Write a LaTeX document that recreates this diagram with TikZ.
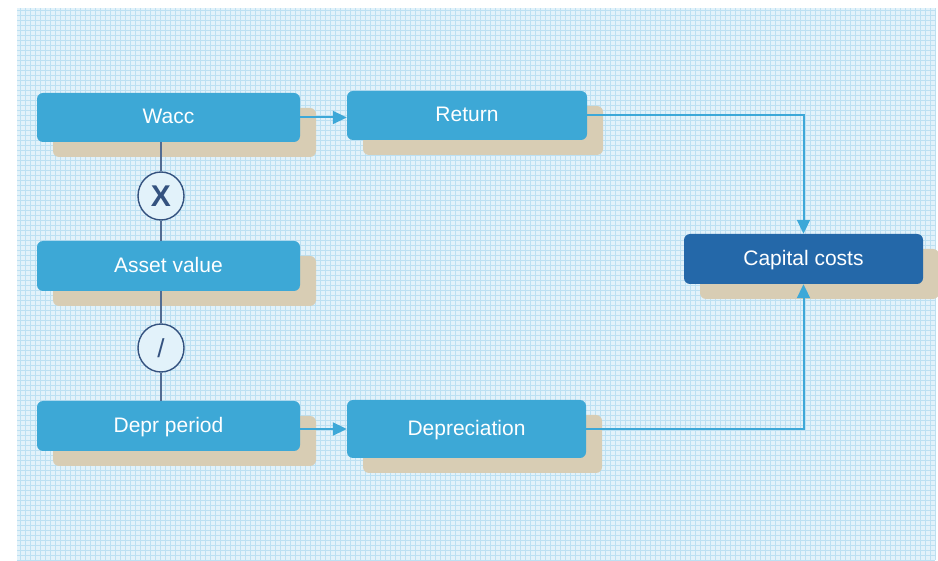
\documentclass[tikz,border=0pt]{standalone}
\usepackage{fontspec}
\setmainfont{Liberation Sans}
\usetikzlibrary{arrows.meta,shadows,shapes.geometric}
\definecolor{bgblue}{HTML}{E2F2FA}
\definecolor{gridblue}{HTML}{BCE0F2}
\definecolor{boxblue}{HTML}{3DA8D6}
\definecolor{darkbox}{HTML}{2468A9}
\definecolor{shadowtan}{HTML}{D8CDB4}
\definecolor{navy}{HTML}{34527F}
\definecolor{arrowblue}{HTML}{3DA8D8}
\tikzset{
  box/.style={rectangle, rounded corners=6pt, fill=boxblue, text=white,
    font=\fontsize{21}{24}\selectfont, inner sep=0pt,
    text height=15pt, text depth=2pt,
    drop shadow={shadow xshift=16pt, shadow yshift=-15pt, fill=shadowtan, opacity=1}},
  darkbox/.style={box, fill=darkbox},
  opcircle/.style={ellipse, draw=navy, line width=1.4pt, fill=bgblue,
    minimum width=46pt, minimum height=48pt, inner sep=0pt, text=navy},
  link/.style={draw=navy!85!white, line width=1.6pt},
  flow/.style={draw=arrowblue, line width=2pt, -{Triangle[length=14pt,width=13pt]}},
}
\begin{document}
\begin{tikzpicture}[x=1pt,y=-1pt]
\useasboundingbox (0,0) rectangle (938,561);
\fill[bgblue] (17,8) rectangle (935,560);
\draw[gridblue, line width=0.7pt, step=5pt] (17,8) grid (935,560);

\node[box, minimum width=263pt, minimum height=49pt] (wacc) at (168.5,117.5) {Wacc};
\node[box, minimum width=240pt, minimum height=49pt] (ret) at (467,115.5) {Return};
\node[box, minimum width=263pt, minimum height=50pt] (asset) at (168.5,266) {Asset value};
\node[box, minimum width=263pt, minimum height=50pt] (depr) at (168.5,426) {Depr period};
\node[box, minimum width=239pt, minimum height=58pt] (dep) at (466.5,429) {Depreciation};
\node[darkbox, minimum width=239pt, minimum height=50pt] (cap) at (803.5,259) {Capital costs};

\node[opcircle, font=\fontsize{30}{32}\selectfont\bfseries] (times) at (161,196) {X};
\node[opcircle, font=\fontsize{26}{28}\selectfont] (div) at (161,348) {/};

\path[link] (wacc.south -| times.north) -- (times.north);
\path[link] (times.south) -- (times.south |- asset.north);
\path[link] (asset.south -| div.north) -- (div.north);
\path[link] (div.south) -- (div.south |- depr.north);

\path[flow] (wacc.east) -- (wacc.east -| ret.west);
\path[flow] (dep.west -| depr.east) -- (dep.west);
\path[flow] (ret.east) -| (cap.north);
\path[flow] (dep.east) -| (cap.south);
\end{tikzpicture}
\end{document}
